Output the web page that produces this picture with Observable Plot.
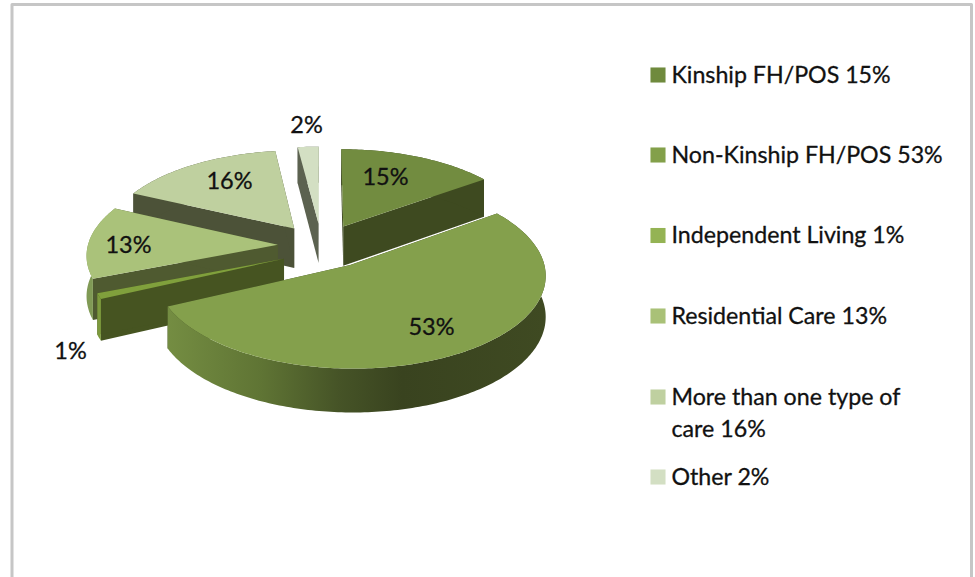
<!DOCTYPE html>
<html>
<head>
<meta charset="utf-8">
<style>html,body{margin:0;padding:0;background:#fff}svg{display:block}</style>
<script src="https://cdn.jsdelivr.net/npm/d3@7"></script>
<script src="https://cdn.jsdelivr.net/npm/@observablehq/plot@0.6"></script>
</head>
<body>
<div id="chart"></div>
<script>
// Data
const categories = ["Kinship FH/POS", "Non-Kinship FH/POS", "Independent Living", "Residential Care", "More than one type of\ncare", "Other"];
const shares = [15, 53, 1, 13, 16, 2];

// Styles and pie geometry
const topColors = ["#728c40", "#84a04c", "#80a03c", "#aac27a", "#bfd09f", "#d3dfc3"];
const legendColors = ["#6f8a3d", "#83a04a", "#94b354", "#a9c177", "#bfd0a0", "#d3dfc3"];
const cutColors = ["#3e4a20", "#3a4420", "#465421", "#4f5a30", "#4c5238", "#5c6250"];
const rimColors = ["#3e4a20", "url(#rim)", "#7d9a3e", "#809a55", "#4c5238", "#5c6250"];
const explode = [0.27, 0.25, 0.23, 0.23, 0.24, 0.25];
const nudge = [[0, 2], [5, 0], [4, 5], [1, 0], [0, 0], [1, 0]];
const drawOrder = [5, 4, 0, 3, 2, 1];
const labelAnchors = [[385, 177], [431, 327], [70, 351], [128, 245], [229, 181], [306, 125]];
const legendX = 657.5, legendTextX = 671, legendRows = [74.5, 154.5, 235, 315.5, 396.5, 476.5];
const cx = 320, cy = 245, A = 190, B = 89, k = 0.1, T = 40;

const toRad = Math.PI / 180;
const project = (i, e, mid, r, deg, depth = 0) => {
  const X = e * Math.sin(mid) + r * Math.sin(deg * toRad);
  const Y = -e * Math.cos(mid) - r * Math.cos(deg * toRad);
  const w = 1 - k * Y;
  return {
    x: cx + nudge[i][0] + A * X / w,
    y: cy + nudge[i][1] + B * Y / w + depth * T * (1 + 0.08 * Y)
  };
};

const stops = d3.cumsum(shares).map((c) => c * 3.6);
const slices = shares.map((s, i) => {
  const a0 = i ? stops[i - 1] : 0, a1 = stops[i];
  return {i, a0, a1, mid: ((a0 + a1) / 2) * toRad, e: explode[i]};
});

const faces = [];
const pushFace = (name, fill, pts) => pts.forEach((p) => faces.push({...p, face: name, fill}));
for (const idx of drawOrder) {
  const {i, a0, a1, mid, e} = slices[idx];
  const degs = [...d3.range(a0, a1, 1), a1];
  const top = degs.map((d) => project(i, e, mid, 1, d));
  const bottom = degs.map((d) => project(i, e, mid, 1, d, 1));
  const apex = project(i, e, mid, 0, 0), apexLow = project(i, e, mid, 0, 0, 1);
  pushFace(`${i}-cut0`, cutColors[i], [apex, top[0], bottom[0], apexLow, apex]);
  pushFace(`${i}-cut1`, cutColors[i], [apex, top[top.length - 1], bottom[bottom.length - 1], apexLow, apex]);
  pushFace(`${i}-rim`, rimColors[i], [...top, ...bottom.slice().reverse(), top[0]]);
  pushFace(`${i}-top`, topColors[i], [apex, ...top, apex]);
}

const labels = shares.map((s, i) => ({x: labelAnchors[i][0], y: labelAnchors[i][1], text: `${s}%`}));
const legend = categories.map((c, i) => ({
  y: legendRows[i], color: legendColors[i], text: `${c} ${shares[i]}%`
}));
const frame = [{x: 11.5, y: 577}, {x: 11.5, y: 4}, {x: 971, y: 4}, {x: 971, y: 577}];
const font = "Lato, 'Open Sans', sans-serif";

const plot = Plot.plot({
  width: 975, height: 577, margin: 0,
  x: {domain: [0, 975], range: [0, 975], axis: null},
  y: {domain: [0, 577], range: [0, 577], axis: null},
  style: {background: "#fff", fontFamily: font},
  marks: [
    Plot.line(frame, {x: "x", y: "y", stroke: "#c6c6c6", strokeWidth: 3}),
    Plot.line(faces, {x: "x", y: "y", z: "face", fill: {value: "fill", scale: null}, stroke: null}),
    Plot.text(labels, {x: "x", y: "y", text: "text", fontSize: 23.5, fill: "#111", stroke: "#111", strokeWidth: 0.3}),
    Plot.dot(legend, {x: () => legendX, y: "y", symbol: "square", r: 8.5, fill: {value: "color", scale: null}, stroke: null}),
    Plot.text(legend, {x: () => legendTextX, y: "y", dy: -15, text: "text", textAnchor: "start", lineAnchor: "top", fontSize: 23.2, lineHeight: 1.39, fill: "#111", stroke: "#111", strokeWidth: 0.3})
  ]
});

const defs = d3.select(plot).insert("defs", ":first-child");
const grad = defs.append("linearGradient").attr("id", "rim");
[[0, "#748d42"], [0.25, "#5f7434"], [0.45, "#465427"], [0.62, "#39431f"], [1, "#3f4a22"]]
  .forEach(([o, c]) => grad.append("stop").attr("offset", o).attr("stop-color", c));

document.getElementById("chart").append(plot);
</script>
</body>
</html>
